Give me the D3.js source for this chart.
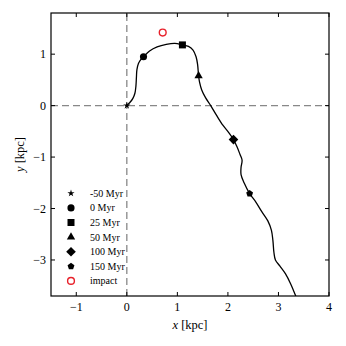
<!DOCTYPE html>
<html><head><meta charset="utf-8">
<script src="https://cdn.jsdelivr.net/npm/d3@7"></script>
<style>body{margin:0;background:#fff}svg{display:block}text{font-family:"Liberation Serif","DejaVu Serif",serif;fill:#000}</style>
</head><body><div id="chart"></div>
<script>
const trajX = [0,0.06,0.12,0.16,0.18,0.19,0.20,0.23,0.28,0.33,0.45,0.60,0.78,0.95,1.10,1.22,1.31,1.37,1.40,1.42,1.44,1.48,1.56,1.66,1.77,1.90,2.02,2.11,2.18,2.24,2.28,2.26,2.26,2.32,2.43,2.55,2.67,2.79,2.86,2.89,2.91,2.94,3.03,3.14,3.24,3.35];
const trajY = [0,0.06,0.14,0.24,0.38,0.55,0.70,0.82,0.90,0.95,1.06,1.14,1.19,1.21,1.18,1.15,1.08,0.95,0.80,0.58,0.45,0.31,0.15,0.0,-0.18,-0.38,-0.53,-0.66,-0.80,-0.95,-1.06,-1.20,-1.34,-1.50,-1.71,-1.87,-2.06,-2.24,-2.42,-2.62,-2.85,-3.00,-3.12,-3.27,-3.46,-3.72];
const markerLabels = ["-50 Myr","0 Myr","25 Myr","50 Myr","100 Myr","150 Myr"];
const markerX = [0,0.33,1.10,1.42,2.11,2.43];
const markerY = [0,0.95,1.18,0.58,-0.66,-1.71];
const markerShapes = ["star","circle","square","triangle","diamond","pentagon"];
const impactX = [0.71];
const impactY = [1.42];
const xTicks = [-1,0,1,2,3,4];
const yTicks = [-3,-2,-1,0,1];

const W=346,H=346;
const m={l:51,r:17,t:13,b:50};
const svg=d3.select("#chart").append("svg").attr("width",W).attr("height",H);
const x=d3.scaleLinear().domain([-1.5,4]).range([m.l,W-m.r]);
const y=d3.scaleLinear().domain([-3.7,1.8]).range([H-m.b,m.t]);

svg.append("clipPath").attr("id","clip").append("rect")
  .attr("x",m.l).attr("y",m.t).attr("width",W-m.l-m.r).attr("height",H-m.t-m.b);

const g=svg.append("g").attr("clip-path","url(#clip)");
g.append("line").attr("x1",x(-1.5)).attr("x2",x(4)).attr("y1",y(0)).attr("y2",y(0))
  .attr("stroke","#888").attr("stroke-width",1.3).attr("stroke-dasharray","7,4");
g.append("line").attr("x1",x(0)).attr("x2",x(0)).attr("y1",y(-3.7)).attr("y2",y(1.8))
  .attr("stroke","#888").attr("stroke-width",1.3).attr("stroke-dasharray","7,4");

const pts=trajX.map((v,i)=>[v,trajY[i]]);
g.append("path").datum(pts)
  .attr("d",d3.line().x(d=>x(d[0])).y(d=>y(d[1])).curve(d3.curveCatmullRom.alpha(0.5)))
  .attr("fill","none").attr("stroke","#000").attr("stroke-width",1.3);

function shapePath(s){
  switch(s){
    case "star": return d3.symbol(d3.symbolStar,16)();
    case "circle": return d3.symbol(d3.symbolCircle,40)();
    case "square": return d3.symbol(d3.symbolSquare,49)();
    case "triangle": return d3.symbol(d3.symbolTriangle,30)();
    case "diamond": {const r=4.8;return `M0,${-r}L${r},0L0,${r}L${-r},0Z`;}
    case "pentagon": {const r=3.6;let p="";for(let k=0;k<5;k++){const a=-Math.PI/2+k*2*Math.PI/5;p+=(k?"L":"M")+(r*Math.cos(a)).toFixed(2)+","+(r*Math.sin(a)).toFixed(2);}return p+"Z";}
  }
}
markerX.forEach((v,i)=>{
  g.append("path").attr("d",shapePath(markerShapes[i]))
   .attr("transform",`translate(${x(v)},${y(markerY[i])})`).attr("fill","#000");
});
g.append("circle").attr("cx",x(impactX[0])).attr("cy",y(impactY[0])).attr("r",3.4)
  .attr("fill","none").attr("stroke","#e8202a").attr("stroke-width",1.4);

svg.append("rect").attr("x",m.l).attr("y",m.t).attr("width",W-m.l-m.r).attr("height",H-m.t-m.b)
  .attr("fill","none").attr("stroke","#000").attr("stroke-width",1.2);

const tl=4;
const fmt=d=>d<0?"\u2212"+Math.abs(d):String(d);
xTicks.forEach(t=>{
  svg.append("line").attr("x1",x(t)).attr("x2",x(t)).attr("y1",H-m.b).attr("y2",H-m.b-tl).attr("stroke","#000");
  svg.append("line").attr("x1",x(t)).attr("x2",x(t)).attr("y1",m.t).attr("y2",m.t+tl).attr("stroke","#000");
  svg.append("text").attr("x",x(t)).attr("y",H-m.b+14.5).attr("text-anchor","middle").attr("font-size",12).text(fmt(t));
});
yTicks.forEach(t=>{
  svg.append("line").attr("x1",m.l).attr("x2",m.l+tl).attr("y1",y(t)).attr("y2",y(t)).attr("stroke","#000");
  svg.append("line").attr("x1",W-m.r).attr("x2",W-m.r-tl).attr("y1",y(t)).attr("y2",y(t)).attr("stroke","#000");
  svg.append("text").attr("x",m.l-5).attr("y",y(t)+4).attr("text-anchor","end").attr("font-size",12).text(fmt(t));
});

const xl=svg.append("text").attr("x",(m.l+W-m.r)/2).attr("y",329).attr("text-anchor","middle").attr("font-size",12.5);
xl.append("tspan").attr("font-style","italic").text("x");
xl.append("tspan").text(" [kpc]");
const yl=svg.append("text").attr("transform",`translate(24,${(m.t+H-m.b)/2}) rotate(-90)`).attr("text-anchor","middle").attr("font-size",12.5);
yl.append("tspan").attr("font-style","italic").text("y");
yl.append("tspan").text(" [kpc]");

const lx=71, tx=90, ly0=193.3, dy=14.6;
markerLabels.forEach((lab,i)=>{
  svg.append("path").attr("d",shapePath(markerShapes[i])).attr("transform",`translate(${lx},${ly0+i*dy})`).attr("fill","#000");
  svg.append("text").attr("x",tx).attr("y",ly0+i*dy+3.5).attr("font-size",10).text(lab);
});
svg.append("circle").attr("cx",lx).attr("cy",ly0+6*dy).attr("r",3.4).attr("fill","none").attr("stroke","#e8202a").attr("stroke-width",1.4);
svg.append("text").attr("x",tx).attr("y",ly0+6*dy+3.5).attr("font-size",10).text("impact");
</script></body></html>
